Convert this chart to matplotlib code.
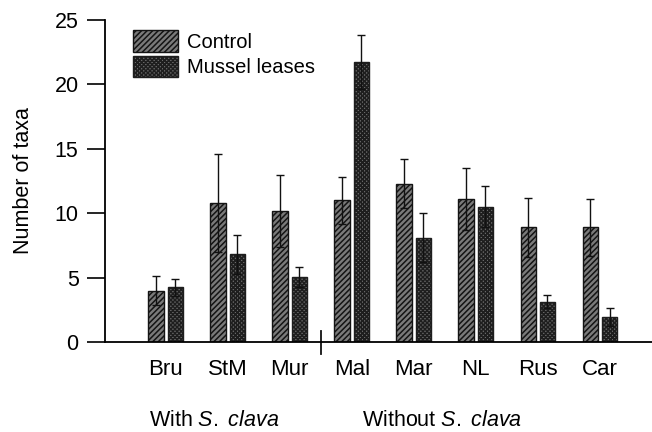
import matplotlib
matplotlib.use("Agg")
import matplotlib.pyplot as plt
import numpy as np

sites = ["Bru", "StM", "Mur", "Mal", "Mar", "NL", "Rus", "Car"]
control = [4.0, 10.8, 10.2, 11.0, 12.3, 11.1, 8.9, 8.9]
control_err = [1.1, 3.8, 2.8, 1.8, 1.9, 2.4, 2.3, 2.2]
mussel = [4.25, 6.8, 5.05, 21.7, 8.1, 10.5, 3.15, 1.95]
mussel_err = [0.65, 1.5, 0.75, 2.1, 1.9, 1.6, 0.5, 0.7]
groups = ["With $\\it{S.}$ $\\it{clava}$", "Without $\\it{S.}$ $\\it{clava}$"]
yticks = [0, 5, 10, 15, 20, 25]

plt.rcParams['font.family'] = ['Liberation Sans', 'DejaVu Sans']
plt.rcParams['hatch.linewidth'] = 1.1
plt.rcParams['mathtext.fontset'] = 'custom'
plt.rcParams['mathtext.it'] = 'Liberation Sans:italic'
plt.rcParams['mathtext.rm'] = 'Liberation Sans'

fig = plt.figure(figsize=(6.52, 4.32), dpi=100)
ax = fig.add_axes([0.161, 0.208, 0.839, 0.746])

x = np.arange(len(sites))
w = 0.25
gap = 0.03
ax.bar(x - w/2 - gap, control, width=w, facecolor='#7a7a7a', edgecolor='#141414',
       hatch='//////', linewidth=1.0, label='Control', zorder=2)
ax.bar(x + w/2 + gap, mussel, width=w, facecolor='#6a6a6a', edgecolor='#1e1e1e',
       hatch='xxxxxxxx', linewidth=1.0, label='Mussel leases', zorder=2)
ax.errorbar(x - w/2 - gap, control, yerr=control_err, fmt='none', ecolor='#111',
            elinewidth=1.0, capsize=3, capthick=1.0, zorder=3)
ax.errorbar(x + w/2 + gap, mussel, yerr=mussel_err, fmt='none', ecolor='#111',
            elinewidth=1.0, capsize=3, capthick=1.0, zorder=3)

ax.set_xlim(-0.98, 7.84)
ax.set_ylim(0, 25)
ax.set_yticks(yticks)
ax.set_xticks(x)
ax.set_xticklabels(sites)
ax.tick_params(axis='x', length=0, pad=12, labelsize=16)
ax.tick_params(axis='y', length=13, width=1.2, direction='out', labelsize=15.5, pad=6)
for s in ['top', 'right']:
    ax.spines[s].set_visible(False)
ax.spines['left'].set_linewidth(1.3)
ax.spines['bottom'].set_linewidth(1.3)
ax.set_ylabel('Number of taxa', fontsize=15.5, labelpad=15)

# divider tick between groups
ax.plot([2.5, 2.5], [-0.9, 0.9], color='#111', lw=1.3, clip_on=False)

fig.text(214/652, 1 - 421/432, groups[0], fontsize=15.5, ha='center', va='center')
fig.text(442/652, 1 - 421/432, groups[1], fontsize=15.5, ha='center', va='center')

ax.legend(loc='upper left', bbox_to_anchor=(0.03, 1.005), frameon=False, fontsize=14.5,
          handlelength=2.2, handleheight=1.25, handletextpad=0.45, labelspacing=0.2,
          borderaxespad=0.2)

fig.savefig('out.png', dpi=100)
